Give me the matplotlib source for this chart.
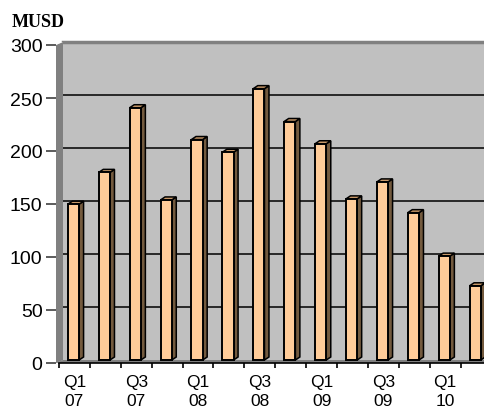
import numpy as np
import matplotlib
matplotlib.use("Agg")
import matplotlib.pyplot as plt
from matplotlib.patches import Polygon

# quarterly values, MUSD
quarters = ["Q1 07", "Q2 07", "Q3 07", "Q4 07", "Q1 08", "Q2 08", "Q3 08",
            "Q4 08", "Q1 09", "Q2 09", "Q3 09", "Q4 09", "Q1 10", "Q2 10"]
values = [147, 177, 238, 151, 208, 196, 256, 225, 204, 152, 168, 139, 98, 70]
yticks = [0, 50, 100, 150, 200, 250, 300]

FRONT = "#FFCC99"
SIDE = "#735A3E"
TOP = "#C89868"
WALL = "#808080"
BG = "#C0C0C0"

W, H = 485, 410
fig = plt.figure(figsize=(W / 100, H / 100), dpi=100)
left_px, right_px, top_px, bot_px = 56, 485, 43, 364
ax = fig.add_axes([left_px / W, (H - bot_px) / H,
                   (right_px - left_px) / W, (bot_px - top_px) / H])

cat_px = 30.9          # pixels per category
unit_px = 318 / 300.0  # pixels per MUSD
dy = 3 / unit_px       # depth offset (back plane is 3px up)
x0 = (left_px - 74.4) / cat_px
xmax = x0 + (right_px - left_px) / cat_px
ax.set_xlim(x0, xmax)
ax.set_ylim(-dy, 300)
ax.set_facecolor(BG)
for s in ax.spines.values():
    s.set_visible(False)

x_back = (63 - 74.4) / cat_px

# back wall gridlines
for v in yticks[1:-1]:
    ax.plot([x_back, xmax], [v, v], color="black", lw=1.1, zorder=1)
ax.plot([x_back, xmax], [300, 300], color=WALL, lw=2.5, zorder=1, clip_on=False)

# left side wall and floor
ax.add_patch(Polygon([(x0, -dy), (x_back, 0), (x_back, 300), (x0, 300 - dy)],
                     closed=True, facecolor=WALL, edgecolor="none", zorder=2,
                     clip_on=False))
ax.add_patch(Polygon([(x0, -dy), (xmax, -dy), (xmax, 0), (x_back, 0)],
                     closed=True, facecolor=WALL, edgecolor="none", zorder=2))
ax.add_patch(Polygon([(x0, 300 - dy), (x_back, 300), (x0, 300)], closed=True,
                     facecolor="white", edgecolor="none", zorder=2, clip_on=False))

# 3d-looking bars
x = np.arange(len(values))
hw = 5.6 / cat_px
ddx = 4.5 / cat_px
ddy = 3 / unit_px
c = x - 0.03
ax.bar(c, values, width=2 * hw, color=FRONT, edgecolor="black", lw=1.4, zorder=4)
for xi, v in zip(c, values):
    ax.add_patch(Polygon([(xi + hw, 0), (xi + hw + ddx, ddy), (xi + hw + ddx, v + ddy),
                          (xi + hw, v)], closed=True, facecolor=SIDE,
                         edgecolor="black", lw=1.1, zorder=3))
    ax.add_patch(Polygon([(xi - hw, v), (xi + hw, v), (xi + hw + ddx, v + ddy),
                          (xi - hw + ddx, v + ddy)], closed=True, facecolor=TOP,
                         edgecolor="black", lw=1.1, zorder=3))

# y axis on front plane
ax.set_yticks([v - dy for v in yticks])
ax.set_yticklabels([str(v) for v in yticks], family="Liberation Sans", fontsize=14)
ax.tick_params(axis="y", length=7.5, width=1.2, color="#404040", pad=2.2)

# x axis: ticks at category boundaries, labels every other quarter
ax.set_xticks(x[::2])
ax.set_xticklabels([q.replace(" ", "\n") for q in quarters[::2]],
                   family="Liberation Sans", fontsize=12.5, linespacing=1.3)
ax.set_xticks(np.arange(len(values)) - 0.5, minor=True)
ax.tick_params(axis="x", which="major", length=0, pad=8)
ax.tick_params(axis="x", which="minor", length=3.5, width=1.2, color="black")
ax.plot([x0 + 0.1, xmax], [-dy, -dy], color="black", lw=1.2, zorder=5, clip_on=False)

fig.text(12 / W, 1 - 27 / H, "MUSD", family="Liberation Serif", weight="bold",
         fontsize=13, ha="left", va="baseline")

fig.savefig("out.png", dpi=100)
